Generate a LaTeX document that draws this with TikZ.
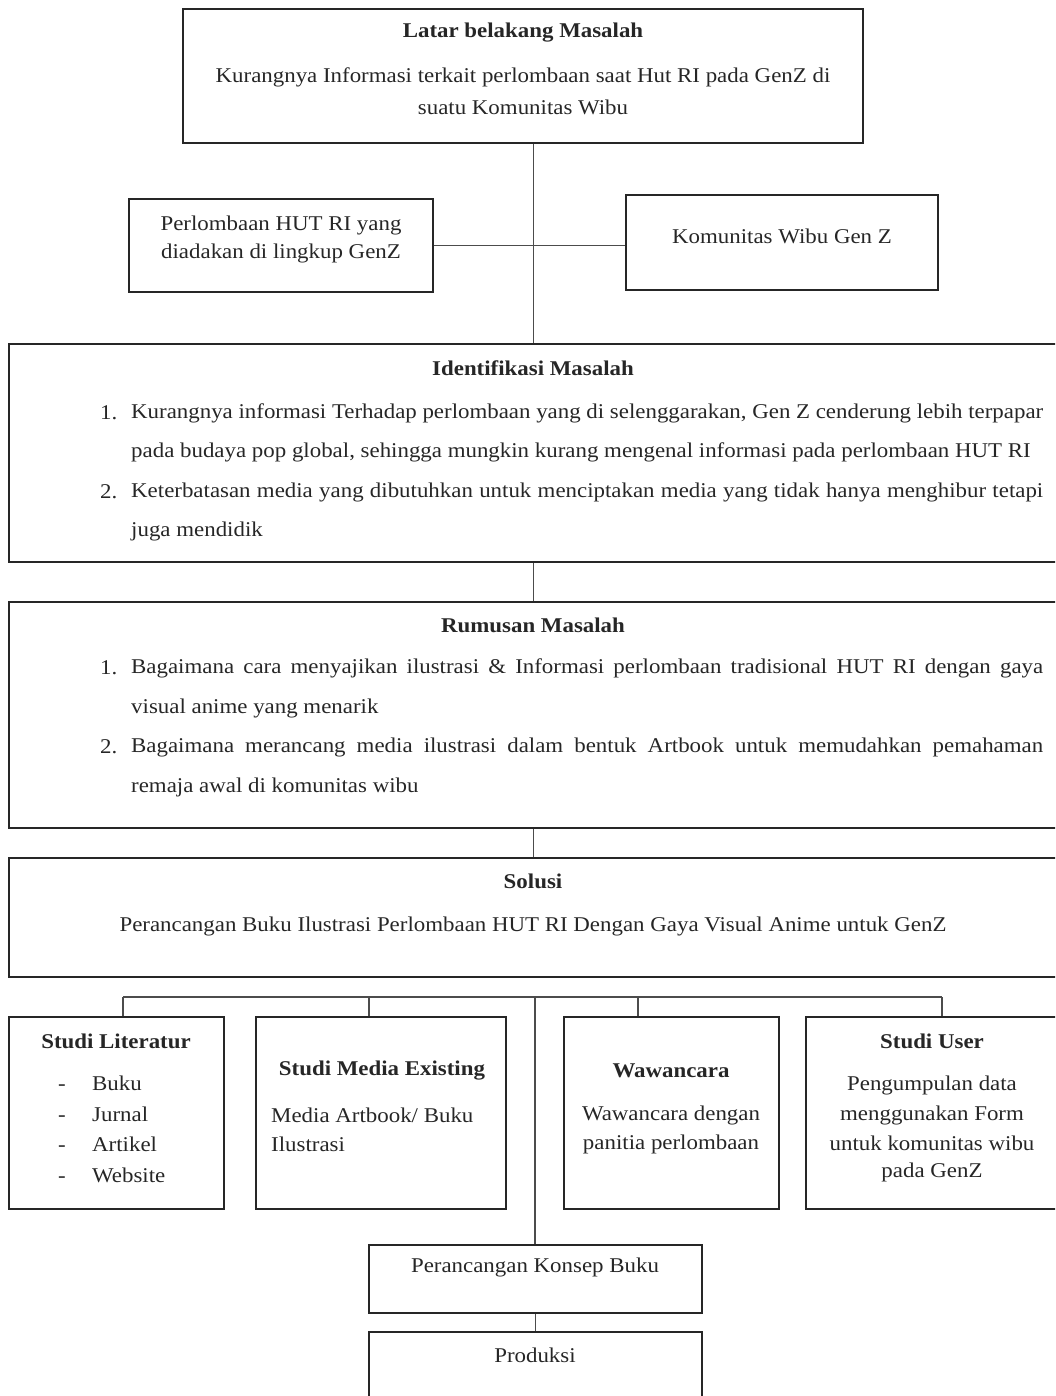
\documentclass[tikz,border=0pt]{standalone}
\usepackage{fontspec}
\setmainfont{Liberation Serif}[FakeStretch=1.09]
\begin{document}
\begin{tikzpicture}[x=1pt,y=-1pt,
  box/.style={draw=black!85, line width=1.8pt, inner sep=0pt},
  conn/.style={draw=black!70, line width=1.3pt},
  txt/.style={inner sep=0pt, font=\fontsize{21}{25}\selectfont, text=black!85},
  ttl/.style={txt, font=\fontsize{21}{25}\selectfont\bfseries}]
\useasboundingbox (0,0) rectangle (1055,1396);
\clip (0,0) rectangle (1055,1396);
% boxes
\node[box, minimum width=680, minimum height=134] (top) at (523,76) {};
\node[box, minimum width=304, minimum height=93] (left) at (281,245.5) {};
\node[box, minimum width=312, minimum height=95] (right) at (782,242.5) {};
\node[box, minimum width=1049, minimum height=218] (ident) at (533.5,453) {};
\node[box, minimum width=1049, minimum height=226] (rum) at (533.5,715) {};
\node[box, minimum width=1049, minimum height=119] (sol) at (533.5,917.5) {};
\node[box, minimum width=215, minimum height=192] (lit) at (116.5,1113) {};
\node[box, minimum width=250, minimum height=192] (med) at (381,1113) {};
\node[box, minimum width=215, minimum height=192] (waw) at (671.5,1113) {};
\node[box, minimum width=252, minimum height=192] (usr) at (932,1113) {};
\node[box, minimum width=333, minimum height=68] (kon) at (535.5,1279) {};
\node[box, minimum width=333, minimum height=70] (prod) at (535.5,1367) {};
% texts
\node[ttl] (t1) at (523,33) {Latar belakang Masalah};
\node[txt] (t2) at (523,77) {Kurangnya Informasi terkait perlombaan saat Hut RI pada GenZ di};
\node[txt] (t3) at (523,107) {suatu Komunitas Wibu};
\node[txt] (l1) at (281,225) {Perlombaan HUT RI yang};
\node[txt] (l2) at (281,253) {diadakan di lingkup GenZ};
\node[txt] (r1) at (782,236) {Komunitas Wibu Gen Z};
\node[ttl] (it) at (533,368) {Identifikasi Masalah};
\node[txt, anchor=west] (in1) at (100,413) {1.};
\node[txt, anchor=west] (i1) at (131,413) {\makebox[912pt][s]{Kurangnya informasi Terhadap perlombaan yang di selenggarakan, Gen Z cenderung lebih terpapar}};
\node[txt, anchor=west] (i2) at (131,452) {pada budaya pop global, sehingga mungkin kurang mengenal informasi pada perlombaan HUT RI};
\node[txt, anchor=west] (in2) at (100,492) {2.};
\node[txt, anchor=west] (i3) at (131,492) {\makebox[912pt][s]{Keterbatasan media yang dibutuhkan untuk menciptakan media yang tidak hanya menghibur tetapi}};
\node[txt, anchor=west] (i4) at (131,531) {juga mendidik};
\node[ttl] (rt) at (533,625) {Rumusan Masalah};
\node[txt, anchor=west] (rn1) at (100,668) {1.};
\node[txt, anchor=west] (r1a) at (131,668) {\makebox[912pt][s]{Bagaimana cara menyajikan ilustrasi \& Informasi perlombaan tradisional HUT RI dengan gaya}};
\node[txt, anchor=west] (r1b) at (131,708) {visual anime yang menarik};
\node[txt, anchor=west] (rn2) at (100,747) {2.};
\node[txt, anchor=west] (r2a) at (131,747) {\makebox[912pt][s]{Bagaimana merancang media ilustrasi dalam bentuk Artbook untuk memudahkan pemahaman}};
\node[txt, anchor=west] (r2b) at (131,787) {remaja awal di komunitas wibu};
\node[ttl] (st) at (533,881) {Solusi};
\node[txt] (s1) at (533,926) {Perancangan Buku Ilustrasi Perlombaan HUT RI Dengan Gaya Visual Anime untuk GenZ};
\node[ttl] (lt) at (116,1041) {Studi Literatur};
\node[txt, anchor=west] (li1) at (92,1083) {Buku};
\node[txt, anchor=west] (li2) at (92,1114) {Jurnal};
\node[txt, anchor=west] (li3) at (92,1144) {Artikel};
\node[txt, anchor=west] (li4) at (92,1175) {Website};
\node[txt, anchor=base west] (ld1) at (li1.base -| 58,0) {-};
\node[txt, anchor=base west] (ld2) at (li2.base -| 58,0) {-};
\node[txt, anchor=base west] (ld3) at (li3.base -| 58,0) {-};
\node[txt, anchor=base west] (ld4) at (li4.base -| 58,0) {-};
\node[ttl] (mt) at (382,1071) {Studi Media Existing};
\node[txt, anchor=west] (m1) at (271,1115) {Media Artbook/ Buku};
\node[txt, anchor=west] (m2) at (271,1144) {Ilustrasi};
\node[ttl] (wt) at (671,1071) {Wawancara};
\node[txt] (w1) at (671,1115) {Wawancara dengan};
\node[txt] (w2) at (671,1144) {panitia perlombaan};
\node[ttl] (ut) at (932,1041) {Studi User};
\node[txt] (u1) at (932,1085) {Pengumpulan data};
\node[txt] (u2) at (932,1115) {menggunakan Form};
\node[txt] (u3) at (932,1143) {untuk komunitas wibu};
\node[txt] (u4) at (932,1172) {pada GenZ};
\node[txt] (k1) at (535,1267) {Perancangan Konsep Buku};
\node[txt] (p1) at (535,1355) {Produksi};
% connectors
\draw[conn] (top.south -| ident.north) -- (ident.north);
\coordinate (mid) at (531,242);
\draw[conn] (left.east) -- (left.east -| mid) -- (right.west |- left.east);
\draw[conn] (ident.south) -- (rum.north);
\draw[conn] (rum.south) -- (sol.north);
\coordinate (b1) at (123,997);
\coordinate (b2) at (369,997);
\coordinate (b3) at (535,997);
\coordinate (b4) at (638,997);
\coordinate (b5) at (942,997);
\draw[conn] (b1) -- (b5);
\draw[conn] (b1) -- (b1 |- lit.north);
\draw[conn] (b2) -- (b2 |- med.north);
\draw[conn] (b4) -- (b4 |- waw.north);
\draw[conn] (b5) -- (b5 |- usr.north);
\draw[conn] (b3) -- (b3 |- kon.north);
\draw[conn] (kon.south) -- (prod.north);
\end{tikzpicture}
\end{document}
